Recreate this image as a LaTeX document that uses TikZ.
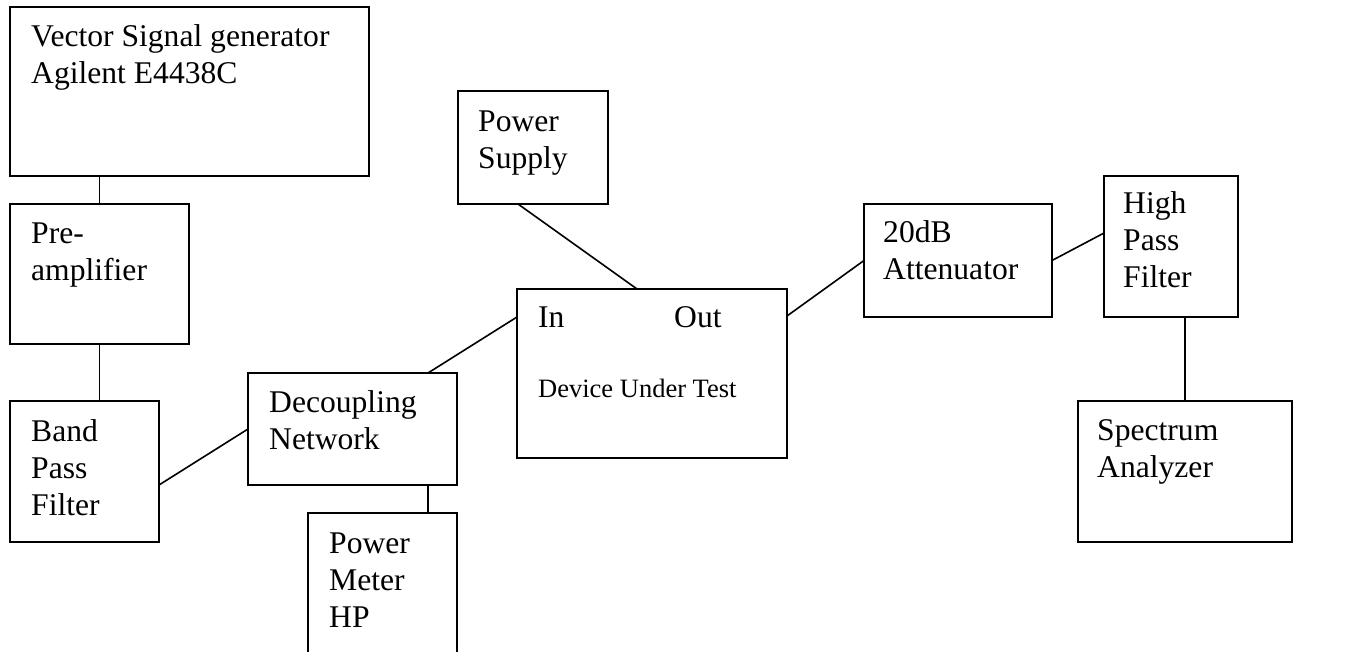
\documentclass[tikz,border=0pt]{standalone}
\usepackage{fontspec}
\setmainfont{Liberation Serif}
\begin{document}
\begin{tikzpicture}[x=1pt,y=-1pt,
  box/.style={draw=black, line width=1.8pt, rectangle, inner sep=0pt, outer sep=0pt, anchor=north west},
  txt/.style={font=\fontsize{31.6}{37}\selectfont, align=left, inner sep=0pt, anchor=base west},
  small/.style={font=\fontsize{26.5}{31}\selectfont, inner sep=0pt, anchor=base west},
  conn/.style={draw=black, line width=1.6pt}]
\useasboundingbox (0,0) rectangle (1355,652);
\clip (0,0) rectangle (1355,652);
% boxes
\node[box, minimum width=359pt, minimum height=169pt] (vsg) at (10,7) {};
\node[box, minimum width=179pt, minimum height=140pt] (pre) at (10,204) {};
\node[box, minimum width=149pt, minimum height=141pt] (bpf) at (10,401) {};
\node[box, minimum width=209pt, minimum height=112pt] (dec) at (248,373) {};
\node[box, minimum width=149pt, minimum height=160pt] (pm) at (308,513) {};
\node[box, minimum width=150pt, minimum height=113pt] (ps) at (458,91) {};
\node[box, minimum width=270pt, minimum height=169pt] (dut) at (517,289) {};
\node[box, minimum width=188pt, minimum height=113pt] (att) at (864,204) {};
\node[box, minimum width=134pt, minimum height=141pt] (hpf) at (1104,176) {};
\node[box, minimum width=214pt, minimum height=141pt] (sa) at (1078,401) {};
% texts (anchor = baseline of the last line)
\node[txt] (tvsg) at (31,84) {Vector Signal generator\\Agilent E4438C};
\node[txt] (tpre) at (31,281) {Pre-\\amplifier};
\node[txt] (tbpf) at (31,515) {Band\\Pass\\Filter};
\node[txt] (tdec) at (269,449) {Decoupling\\Network};
\node[txt] (tpm) at (329,627) {Power\\Meter\\HP};
\node[txt] (tps) at (478,169) {Power\\Supply};
\node[txt] (tin) at (538,328) {In};
\node[txt] (tout) at (674,328) {Out};
\node[small] (tdut) at (538,397) {Device Under Test};
\node[txt] (tatt) at (883,280) {20dB\\Attenuator};
\node[txt] (thpf) at (1123,288) {High\\Pass\\Filter};
\node[txt] (tsa) at (1097,477) {Spectrum\\Analyzer};
% connectors
\draw[conn] (pre.north |- vsg.south) -- (pre.north);
\draw[conn] (pre.south) -- (pre.south |- bpf.north);
\draw[conn] ([yshift=-13.5pt]bpf.east) -- (dec.west);
\draw[conn] ([xshift=75.5pt]dec.north) -- ([yshift=56.5pt]dut.west);
\draw[conn] ([xshift=75.5pt]dec.south) -- ([xshift=75.5pt]dec.south |- pm.north);
\draw[conn] ([xshift=-15pt]ps.south) -- ([xshift=-15pt]dut.north);
\draw[conn] ([yshift=57.5pt]dut.east) -- (att.west);
\draw[conn] (att.east) -- ([yshift=13.5pt]hpf.west);
\draw[conn] ([xshift=14pt]hpf.south) -- ([xshift=14pt]hpf.south |- sa.north);
\end{tikzpicture}
\end{document}
